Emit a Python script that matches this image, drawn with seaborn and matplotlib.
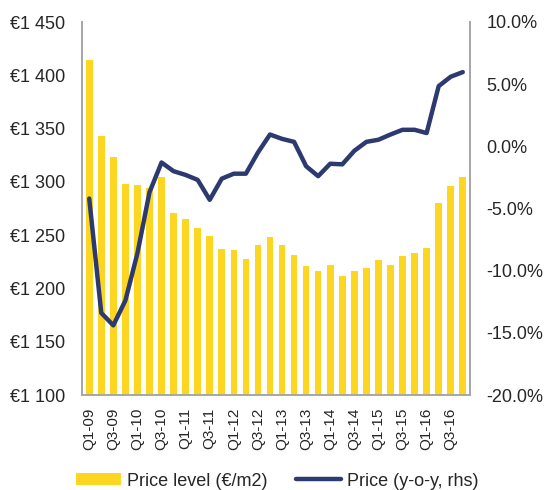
import numpy as np
import pandas as pd
import matplotlib
matplotlib.use("Agg")
import matplotlib.pyplot as plt
import matplotlib.ticker as mticker
from matplotlib.patches import Patch
from matplotlib.lines import Line2D
import seaborn as sns

# ---------------------------
# Data
# ---------------------------
QUARTERS = [f"Q{q}-{y:02d}" for y in range(9, 17) for q in range(1, 5)]

PRICE_LEVEL = [
    1414, 1343, 1323, 1298, 1297, 1294, 1305, 1271,
    1265, 1257, 1249, 1237, 1236, 1228, 1241, 1248,
    1241, 1231, 1221, 1216, 1222, 1212, 1216, 1219,
    1227, 1222, 1230, 1233, 1238, 1280, 1296, 1305,
]

PRICE_YOY = [
    -4.2, -13.4, -14.4, -12.4, -8.6, -3.7, -1.3, -2.0,
    -2.3, -2.7, -4.3, -2.6, -2.2, -2.2, -0.5, 0.95,
    0.6, 0.36, -1.6, -2.4, -1.4, -1.45, -0.36, 0.36,
    0.53, 0.95, 1.33, 1.33, 1.07, 4.84, 5.6, 5.97,
]

YELLOW = "#FDD622"
NAVY = "#2C3A70"
GREY = "#A6A6A6"
TEXT = "#262626"

df = pd.DataFrame({"quarter": QUARTERS, "level": PRICE_LEVEL, "yoy": PRICE_YOY})
df["pos"] = np.arange(len(df))

# ---------------------------
# Plot
# ---------------------------
sns.set_style("white")
plt.rcParams["font.family"] = ["Liberation Sans", "DejaVu Sans"]

fig = plt.figure(figsize=(5.44, 4.90), dpi=100)
ax = fig.add_axes([82 / 544, 95 / 490, 388 / 544, 373 / 490])

sns.barplot(data=df, x="quarter", y="level", color=YELLOW, saturation=1,
            width=0.55, linewidth=0, ax=ax)
ax.set_ylim(1100, 1450)
ax.set_xlim(-0.6, len(df) - 0.4)
ax.yaxis.set_major_locator(mticker.MultipleLocator(50))
ax.yaxis.set_major_formatter(
    mticker.FuncFormatter(lambda v, p: "€" + f"{int(v):,}".replace(",", " ")))
ax.set_xticks(df["pos"][::2])
ax.set_xticklabels(df["quarter"][::2], rotation=90)
ax.set_xlabel("")
ax.set_ylabel("")
ax.tick_params(axis="both", length=0, colors=TEXT)
ax.tick_params(axis="y", labelsize=13, pad=12)
ax.tick_params(axis="x", labelsize=11, pad=9)

ax2 = ax.twinx()
sns.lineplot(data=df, x="pos", y="yoy", color=NAVY, linewidth=3.2, ax=ax2,
             solid_capstyle="round")
ax2.set_ylim(-20, 10)
ax2.yaxis.set_major_locator(mticker.MultipleLocator(5))
ax2.yaxis.set_major_formatter(mticker.FuncFormatter(lambda v, p: f"{v:.1f}%"))
ax2.set_ylabel("")
ax2.set_xlabel("")
ax2.tick_params(axis="y", length=0, labelsize=13, colors=TEXT, pad=12)

for a in (ax, ax2):
    a.spines["top"].set_visible(False)
    for s in ("left", "bottom", "right"):
        a.spines[s].set_color(GREY)
        a.spines[s].set_linewidth(1.2)

handles = [
    Patch(facecolor=YELLOW, edgecolor="none", label="Price level (€/m2)"),
    Line2D([0], [0], color=NAVY, linewidth=3.2, label="Price (y-o-y, rhs)"),
]
fig.legend(handles=handles, loc="center left",
           bbox_to_anchor=(60 / 544, 9 / 490),
           ncol=2, frameon=False, fontsize=13, handlelength=2.5,
           handleheight=0.6, columnspacing=1.6, handletextpad=0.3,
           labelcolor=TEXT)

fig.savefig("out.png", dpi=100)
